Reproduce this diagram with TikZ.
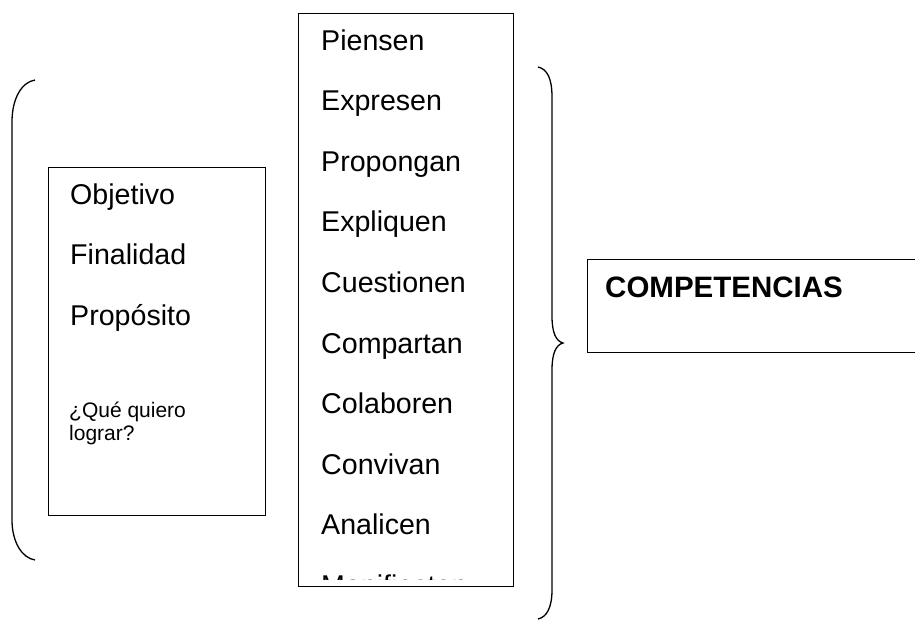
\documentclass[tikz,border=0pt]{standalone}
\usepackage{fontspec}
\setmainfont{Liberation Sans}
\usetikzlibrary{positioning}

\tikzset{
  word/.style={inner sep=0pt,anchor=base west,font=\fontsize{28.6}{33}\selectfont},
  small/.style={inner sep=0pt,anchor=base west,align=left,font=\fontsize{21}{23}\selectfont},
  frame/.style={draw,line width=1.4pt},
  brace/.style={draw,line width=1.3pt}
}

\begin{document}
\begin{tikzpicture}[x=1pt,y=-1pt]
\useasboundingbox (0,0) rectangle (915,624);
\clip (0,0) rectangle (915,624);

% left box
\node (lbox) [frame,minimum width=217pt,minimum height=348pt,anchor=north west] at (48,167) {};
\foreach \w [count=\i] in {Objetivo,Finalidad,Propósito}
  \node (l\i) [word] at (70,204+60.5*\i-60.5) {\w};
\node (q) [small] at (69,440) {¿Qué quiero\\lograr?};

% middle box, last word cut by the frame
\node (mbox) [frame,minimum width=215pt,minimum height=573pt,anchor=north west] at (298,13) {};
\begin{scope}
\clip (298,13) rectangle (513,579);
\foreach \w [count=\i] in {Piensen,Expresen,Propongan,Expliquen,Cuestionen,Compartan,Colaboren,Convivan,Analicen,Manifiesten}
  \node (m\i) [word] at (321,50+60.6*\i-60.6) {\w};
\end{scope}

% result box, runs off the page
\node (cbox) [frame,minimum width=340pt,minimum height=93pt,anchor=north west] at (587,259) {};
\node (comp) [word,font=\fontsize{29.5}{34}\selectfont\bfseries] at (605,297) {COMPETENCIAS};

% braces
\coordinate (lt) at (35,80);
\coordinate (lb) at (35,560);
\draw[brace] (lt) .. controls (22,82) and (12,98) .. (12,122)
  -- (12,520) .. controls (12,542) and (22,558) .. (lb);
\coordinate (rt) at (538,67);
\coordinate (rtip) at (563,343);
\coordinate (rb) at (538,619);
\draw[brace] (rt) .. controls (547,69) and (552,78) .. (552,97)
  -- (552,316) .. controls (552,333) and (556,341) .. (rtip)
  .. controls (556,345) and (552,353) .. (552,370)
  -- (552,590) .. controls (552,607) and (547,617) .. (rb);
\end{tikzpicture}
\end{document}
